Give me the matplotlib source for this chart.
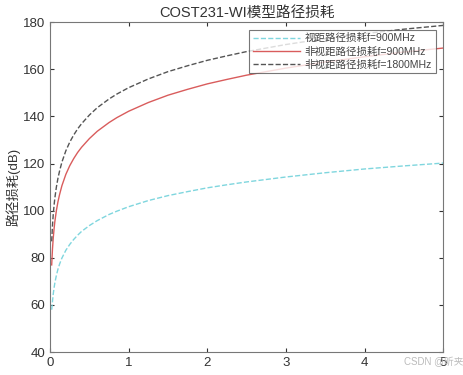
import matplotlib
matplotlib.use("Agg")
import matplotlib.pyplot as plt

plt.rcParams['font.family'] = ['Liberation Sans', 'Noto Sans CJK SC', 'DejaVu Sans']

# distance (km)
d = [0.02, 0.03, 0.04, 0.05, 0.06, 0.08, 0.1, 0.12, 0.15, 0.2, 0.25, 0.3,
     0.35, 0.4, 0.5, 0.6, 0.75, 0.85, 1.0, 1.25, 1.5, 1.75, 2.0, 2.25, 2.5,
     3.0, 3.5, 4.0, 4.5, 5.0]

# path loss (dB)
los_900 = [58, 61.5, 64.7, 67.2, 69.3, 72.6, 75.2, 77.3, 79.9, 83.2, 85.7, 87.8,
           89.6, 91.2, 93.7, 95.8, 98.4, 99.8, 101.7, 104.3, 106.4, 108.1, 109.7,
           111.0, 112.2, 114.3, 116.1, 117.7, 119.0, 120.2]
nlos_900 = [77.0, 83.7, 88.5, 92.2, 95.3, 100.1, 103.8, 106.8, 110.6, 115.4, 119.1,
            122.1, 124.7, 126.9, 130.6, 133.7, 137.4, 139.5, 142.2, 145.9, 149.0,
            151.5, 153.8, 155.7, 157.5, 160.5, 163.1, 165.3, 167.3, 169.0]
nlos_1800 = [87.0, 93.7, 98.5, 102.2, 105.3, 110.1, 113.8, 116.8, 120.6, 125.4,
             129.1, 132.1, 134.7, 136.9, 140.6, 143.7, 147.4, 149.5, 152.2, 155.9,
             159.0, 161.5, 163.8, 165.7, 167.5, 170.5, 173.0, 175.1, 177.0, 178.6]

labels = ["视距路径损耗f=900MHz", "非视距路径损耗f=900MHz", "非视距路径损耗f=1800MHz"]

fig = plt.figure(figsize=(4.64, 3.75), dpi=100)
ax = fig.add_axes([0.108, 0.061, 0.847, 0.88])

ax.plot(d, los_900, color="#7fd6de", ls="--", lw=1.0, label=labels[0])
ax.plot(d, nlos_900, color="#d95c5c", ls="-", lw=1.0, label=labels[1])
ax.plot(d, nlos_1800, color="#555555", ls="--", lw=1.0, label=labels[2])

ax.set_xlim(0, 5)
ax.set_ylim(40, 180)
ax.set_xticks([0, 1, 2, 3, 4, 5])
ax.set_yticks(range(40, 181, 20))
ax.tick_params(direction="in", labelsize=9.5, colors="#333333", length=3,
               top=True, right=True)
for s in ax.spines.values():
    s.set_color("#777777")
    s.set_linewidth(0.8)

ax.set_title("COST231-WI模型路径损耗", fontsize=10.5, color="#333333", pad=4)
ax.set_ylabel("路径损耗(dB)", fontsize=9.5, color="#333333", labelpad=2)

leg = ax.legend(loc="upper right", fontsize=7.6, frameon=True, fancybox=False,
                handlelength=4.5, borderpad=0.35, labelspacing=0.3,
                borderaxespad=0.7, handletextpad=0.4)
leg.get_frame().set_edgecolor("#555555")
leg.get_frame().set_linewidth(0.8)
for t in leg.get_texts():
    t.set_color("#444444")

fig.text(0.998, 0.035, "CSDN @昕夹", fontsize=7, color="#bbbbbb", ha="right", va="center")

fig.savefig("out.png", dpi=100)
